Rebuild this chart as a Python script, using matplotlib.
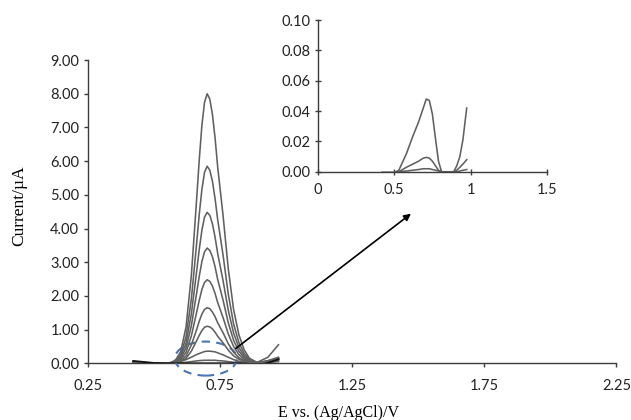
import numpy as np
import matplotlib
matplotlib.use("Agg")
import matplotlib.pyplot as plt
from matplotlib.patches import Ellipse

# potential grid for the main voltammograms (V)
e_main = [0.42, 0.46, 0.49, 0.52, 0.54, 0.56, 0.58, 0.60, 0.62, 0.64, 0.66, 0.67, 0.68, 0.69,
          0.70, 0.71, 0.72, 0.73, 0.74, 0.76, 0.78, 0.80, 0.82, 0.84, 0.86, 0.89, 0.93, 0.97]

# current (uA) for each concentration, biggest first
i_c1 = [0.05, 0.02, 0.00, 0.00, 0.00, 0.02, 0.09, 0.35, 1.08, 2.60, 4.86, 6.04, 7.06, 7.75,
        8.00, 7.84, 7.38, 6.68, 5.81, 4.40, 2.80, 1.60, 0.85, 0.40, 0.15, 0.02, 0.06, 0.15]
i_c2 = [0.05, 0.02, 0.00, 0.00, 0.00, 0.01, 0.06, 0.26, 0.79, 1.90, 3.55, 4.42, 5.16, 5.67,
        5.85, 5.73, 5.40, 4.88, 4.25, 3.22, 2.05, 1.17, 0.62, 0.29, 0.11, 0.02, 0.08, 0.18]
i_c3 = [0.05, 0.02, 0.00, 0.00, 0.00, 0.01, 0.05, 0.20, 0.60, 1.46, 2.72, 3.38, 3.95, 4.34,
        4.48, 4.39, 4.14, 3.74, 3.25, 2.46, 1.57, 0.90, 0.47, 0.22, 0.09, 0.01, 0.07, 0.16]
i_c4 = [0.04, 0.02, 0.00, 0.00, 0.00, 0.01, 0.04, 0.15, 0.46, 1.11, 2.08, 2.58, 3.02, 3.31,
        3.42, 3.35, 3.16, 2.86, 2.48, 1.88, 1.20, 0.68, 0.36, 0.17, 0.06, 0.01, 0.06, 0.14]
i_c5 = [0.04, 0.02, 0.00, 0.00, 0.00, 0.00, 0.03, 0.11, 0.33, 0.81, 1.51, 1.87, 2.19, 2.40,
        2.48, 2.43, 2.29, 2.07, 1.80, 1.36, 0.87, 0.50, 0.26, 0.12, 0.05, 0.01, 0.05, 0.12]
i_c6 = [0.03, 0.01, 0.00, 0.00, 0.00, 0.00, 0.02, 0.07, 0.22, 0.54, 1.00, 1.25, 1.46, 1.60,
        1.65, 1.62, 1.52, 1.38, 1.20, 0.91, 0.58, 0.33, 0.17, 0.08, 0.03, 0.00, 0.04, 0.10]
i_c7 = [0.03, 0.01, 0.00, 0.00, 0.00, 0.00, 0.01, 0.05, 0.15, 0.36, 0.67, 0.83, 0.97, 1.07,
        1.10, 1.08, 1.02, 0.92, 0.80, 0.61, 0.39, 0.22, 0.12, 0.06, 0.02, 0.00, 0.03, 0.08]
i_c8 = [0.02, 0.01, 0.00, 0.00, 0.00, 0.01, 0.03, 0.06, 0.11, 0.18, 0.26, 0.29, 0.32, 0.35,
        0.36, 0.36, 0.35, 0.34, 0.31, 0.25, 0.18, 0.11, 0.06, 0.03, 0.02, 0.03, 0.18, 0.55]
i_c9 = [0.02, 0.01, 0.00, 0.00, 0.00, 0.00, 0.01, 0.02, 0.03, 0.05, 0.07, 0.08, 0.085, 0.09,
        0.09, 0.09, 0.09, 0.09, 0.08, 0.07, 0.05, 0.03, 0.02, 0.01, 0.00, 0.00, 0.02, 0.05]
main_curves = [i_c1, i_c2, i_c3, i_c4, i_c5, i_c6, i_c7, i_c8, i_c9]

# blank (black trace)
e_blank = [0.42, 0.46, 0.50, 0.54, 0.60, 0.70, 0.80, 0.85, 0.88, 0.91, 0.94, 0.97]
i_blank = [0.07, 0.04, 0.01, 0.00, 0.00, 0.00, 0.00, -0.01, -0.04, -0.03, 0.04, 0.12]

# inset: the three lowest concentrations
e_ins = [0.42, 0.50, 0.53, 0.58, 0.62, 0.66, 0.69, 0.71, 0.73, 0.75, 0.77, 0.79,
         0.81, 0.85, 0.89, 0.91, 0.93, 0.95, 0.975]
ins_a = [-0.0005, -0.0005, 0.001, 0.012, 0.023, 0.033, 0.042, 0.048, 0.047, 0.038,
         0.022, 0.007, 0.000, 0.000, 0.000, 0.004, 0.010, 0.021, 0.042]
ins_b = [-0.0005, -0.0005, 0.000, 0.003, 0.005, 0.007, 0.009, 0.0095, 0.009, 0.007,
         0.004, 0.001, 0.000, 0.000, 0.000, 0.001, 0.003, 0.005, 0.008]
ins_c = [-0.0005, -0.0005, 0.000, 0.0005, 0.001, 0.0015, 0.002, 0.002, 0.002, 0.0015,
         0.001, 0.0005, 0.000, 0.000, 0.000, 0.000, 0.0005, 0.001, 0.0015]

main_yticks = [0, 1, 2, 3, 4, 5, 6, 7, 8, 9]
main_xticks = [0.25, 0.75, 1.25, 1.75, 2.25]
ins_yticks = [0, 0.02, 0.04, 0.06, 0.08, 0.10]
ins_xticks = [0, 0.5, 1, 1.5]

tick_font = "Lato"
label_font = "Liberation Serif"
axis_col = "#3c3c3c"
line_col = "#606060"

fig = plt.figure(figsize=(6.31, 4.20), dpi=100)

# main chart
ax = fig.add_axes([0.140, 0.135, 0.837, 0.722])
for yy in main_curves:
    ax.plot(e_main, yy, color=line_col, lw=1.15)
ax.plot(e_blank, i_blank, color="#111111", lw=1.3)
ax.set_xlim(0.25, 2.25)
ax.set_ylim(0, 9)
ax.set_xticks(main_xticks)
ax.set_xticklabels(["%.2f" % v for v in main_xticks], fontfamily=tick_font, fontsize=10.5)
ax.set_yticks(main_yticks)
ax.set_yticklabels(["%.2f" % v for v in main_yticks], fontfamily=tick_font, fontsize=10.5)
for s in ["top", "right"]:
    ax.spines[s].set_visible(False)
for s in ["left", "bottom"]:
    ax.spines[s].set_color(axis_col)
    ax.spines[s].set_linewidth(1.0)
ax.tick_params(direction="out", length=3, width=1, color=axis_col, labelcolor="#222222")
ax.tick_params(axis="x", pad=8)
ax.spines["bottom"].set_zorder(0.5)

# dashed circle round the low concentrations and arrow to the inset
ell = Ellipse((0.695, 0.14), 0.235, 1.01, fill=False, ec="#4a74b4", ls=(0, (4, 3)), lw=1.5,
              clip_on=False)
ax.add_patch(ell)
ax.annotate("", xy=(1.48, 4.49), xytext=(0.80, 0.39),
            arrowprops=dict(arrowstyle="-|>", color="black", lw=1.2, mutation_scale=10))

fig.text(0.030, 0.51, "Current/\u00b5A", rotation=90, ha="center", va="center",
         fontfamily=label_font, fontsize=12.5)
fig.text(0.536, 0.017, "E vs. (Ag/AgCl)/V", ha="center", va="center",
         fontfamily=label_font, fontsize=11.5)

# inset
axi = fig.add_axes([0.504, 0.591, 0.3625, 0.361])
for yy in [ins_a, ins_b, ins_c]:
    axi.plot(e_ins, yy, color=line_col, lw=1.15)
axi.set_xlim(0, 1.5)
axi.set_ylim(0, 0.10)
axi.set_xticks(ins_xticks)
axi.set_xticklabels(["0", "0.5", "1", "1.5"], fontfamily=tick_font, fontsize=10.5)
axi.set_yticks(ins_yticks)
axi.set_yticklabels(["%.2f" % v for v in ins_yticks], fontfamily=tick_font, fontsize=10.5)
for s in ["top", "right"]:
    axi.spines[s].set_visible(False)
for s in ["left", "bottom"]:
    axi.spines[s].set_color(axis_col)
    axi.spines[s].set_linewidth(1.0)
axi.tick_params(direction="inout", length=4, width=1, color=axis_col, labelcolor="#222222")
axi.tick_params(axis="x", pad=6)
axi.patch.set_alpha(0)

fig.savefig("out.png", dpi=100)
